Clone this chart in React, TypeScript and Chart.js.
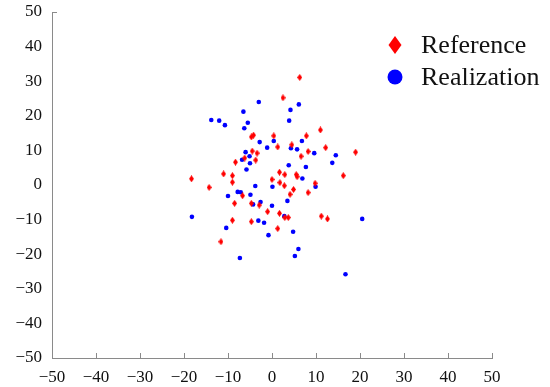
import React, { useEffect, useRef } from "react";
import { Chart, registerables } from "chart.js";

Chart.register(...registerables);

const xTickValues = [-50, -40, -30, -20, -10, 0, 10, 20, 30, 40, 50];
const yTickValues = [-50, -40, -30, -20, -10, 0, 10, 20, 30, 40, 50];
const seriesNames = ["Reference", "Realization"];

const referenceX = [6.3, 2.5, -4.7, -4.2, 0.4, 1.3, -4.5, -3.4, -6.2, -3.7, -8.3, -18.3, -11.0, -9.0, -9.0, -14.3, 1.7, 2.9, 0.0, 1.8, 2.8, 7.8, 11.0, 4.5, 8.2, 12.2, 6.6, 19.0, 16.2, 5.5, 5.7, 4.9, 9.8, 4.1, 8.2, -6.7, -8.5, -4.7, -2.9, -1.0, 1.7, 2.9, 3.7, -9.0, -4.7, 1.3, -11.6, 11.2, 12.6];
const referenceY = [31.1, 25.2, 13.9, 14.4, 14.2, 11.0, 9.8, 9.2, 7.8, 7.2, 6.6, 1.8, 3.2, 2.7, 0.8, -0.7, 3.7, 3.0, 1.6, 0.7, -0.2, 14.2, 15.9, 11.6, 9.7, 10.8, 8.3, 9.5, 2.7, 3.0, 2.4, -1.3, 0.5, -2.7, -2.2, -3.1, -5.3, -5.3, -5.8, -7.7, -8.2, -9.4, -9.4, -10.2, -10.6, -12.6, -16.4, -9.0, -9.8];

const realizationX = [-3.0, -6.5, -13.8, -12.0, -10.7, -5.5, -6.3, 3.9, 4.2, 6.1, -2.8, 0.4, -1.1, -6.0, -5.1, -6.8, -5.0, -5.8, 3.8, -3.8, 6.8, 4.3, 5.7, 9.6, 14.5, 13.7, 7.7, 6.9, 0.1, 9.9, -10.0, -7.8, -7.1, -4.9, -4.3, -2.6, 0.0, 3.5, -18.2, 2.8, -3.1, -1.8, -10.4, -0.8, -7.3, 4.8, 20.5, 6.0, 5.2, 16.7];
const realizationY = [24.0, 21.2, 18.8, 18.6, 17.3, 18.0, 16.4, 18.6, 21.7, 23.3, 12.4, 12.7, 10.8, 9.5, 8.3, 7.3, 6.3, 4.5, 5.7, -0.3, 12.7, 10.6, 10.3, 9.2, 8.6, 6.4, 5.2, 1.9, -0.5, -0.5, -3.2, -2.0, -2.1, -2.8, -5.6, -4.9, -6.0, -4.6, -9.2, -9.0, -10.3, -10.9, -12.4, -14.5, -21.1, -13.5, -9.8, -18.5, -20.5, -25.8];

const RED = "#ff0000";
const BLUE = "#0000ff";
const AXIS = "#8a8a8a";
const SERIF = "'Liberation Serif', 'Times New Roman', serif";

function makeDiamond(w: number, h: number, color: string) {
  const c = document.createElement("canvas");
  c.width = w;
  c.height = h;
  const g = c.getContext("2d")!;
  g.fillStyle = color;
  g.beginPath();
  g.moveTo(w / 2, 0);
  g.lineTo(w, h / 2);
  g.lineTo(w / 2, h);
  g.lineTo(0, h / 2);
  g.closePath();
  g.fill();
  return c;
}

const fmt = (v: number | string) => String(v).replace("-", "\u2212");

export default function App() {
  const ref = useRef<HTMLCanvasElement | null>(null);

  useEffect(() => {
    if (!ref.current) return;
    const diamond = makeDiamond(5, 7, RED);

    const extras = {
      id: "extras",
      afterDraw(chart: any) {
        const { ctx, chartArea, scales } = chart;
        const xs = scales.x;
        const ys = scales.y;
        ctx.save();
        ctx.strokeStyle = AXIS;
        ctx.lineWidth = 1;
        ctx.beginPath();
        for (const v of xTickValues) {
          const px = Math.round(xs.getPixelForValue(v)) + 0.5;
          ctx.moveTo(px, chartArea.bottom);
          ctx.lineTo(px, chartArea.bottom - 5);
        }
        const py = Math.round(ys.getPixelForValue(50)) + 0.5;
        ctx.moveTo(chartArea.left, py);
        ctx.lineTo(chartArea.left + 5, py);
        ctx.stroke();

        // legend
        const lx = 395;
        const rows = [45, 77];
        ctx.fillStyle = RED;
        ctx.beginPath();
        ctx.moveTo(lx, rows[0] - 9);
        ctx.lineTo(lx + 6.5, rows[0]);
        ctx.lineTo(lx, rows[0] + 9);
        ctx.lineTo(lx - 6.5, rows[0]);
        ctx.closePath();
        ctx.fill();
        ctx.fillStyle = BLUE;
        ctx.beginPath();
        ctx.arc(lx, rows[1], 7.5, 0, Math.PI * 2);
        ctx.fill();
        ctx.fillStyle = "#111";
        ctx.font = `26px ${SERIF}`;
        ctx.textBaseline = "alphabetic";
        ctx.textAlign = "left";
        ctx.fillText(seriesNames[0], 421, 53);
        ctx.fillText(seriesNames[1], 421, 85);
        ctx.restore();
      },
    };

    const chart = new Chart(ref.current, {
      type: "scatter",
      data: {
        datasets: [
          {
            label: seriesNames[0],
            data: referenceX.map((x, i) => ({ x, y: referenceY[i] })),
            pointStyle: diamond as any,
            pointRadius: 3.5,
            backgroundColor: RED,
            borderColor: RED,
          },
          {
            label: seriesNames[1],
            data: realizationX.map((x, i) => ({ x, y: realizationY[i] })),
            pointStyle: "circle",
            pointRadius: 2.3,
            borderWidth: 0,
            backgroundColor: BLUE,
            borderColor: BLUE,
          },
        ],
      },
      options: {
        animation: false,
        responsive: true,
        maintainAspectRatio: false,
        layout: { padding: { top: 12, right: 58, left: 0, bottom: 0 } },
        plugins: { legend: { display: false }, tooltip: { enabled: false } },
        scales: {
          x: {
            type: "linear",
            min: -50,
            max: 50,
            afterBuildTicks: (s: any) => {
              s.ticks = xTickValues.map((v) => ({ value: v }));
            },
            afterFit: (s: any) => {
              s.height = 29;
              s.paddingLeft = 0;
              s.paddingRight = 0;
              s.paddingTop = 0;
              s.paddingBottom = 0;
            },
            grid: { display: false, drawTicks: false },
            border: { display: true, color: AXIS, width: 1 },
            ticks: {
              padding: 9,
              color: "#111",
              font: { family: SERIF, size: 17 },
              maxRotation: 0,
              autoSkip: false,
              callback: (v: any) => fmt(v),
            },
          },
          y: {
            type: "linear",
            min: -50,
            max: 50,
            afterBuildTicks: (s: any) => {
              s.ticks = yTickValues.map((v) => ({ value: v }));
            },
            afterFit: (s: any) => {
              s.width = 52;
              s.paddingLeft = 0;
              s.paddingRight = 0;
              s.paddingTop = 0;
              s.paddingBottom = 0;
            },
            grid: { display: false, drawTicks: false },
            border: { display: true, color: AXIS, width: 1 },
            ticks: {
              padding: 10,
              color: "#111",
              font: { family: SERIF, size: 17 },
              autoSkip: false,
              callback: (v: any) => fmt(v),
            },
          },
        },
      },
      plugins: [extras],
    });
    return () => chart.destroy();
  }, []);

  return (
    <div style={{ position: "fixed", left: 0, top: 0, width: 550, height: 387, background: "#fff" }}>
      <canvas ref={ref} />
    </div>
  );
}
